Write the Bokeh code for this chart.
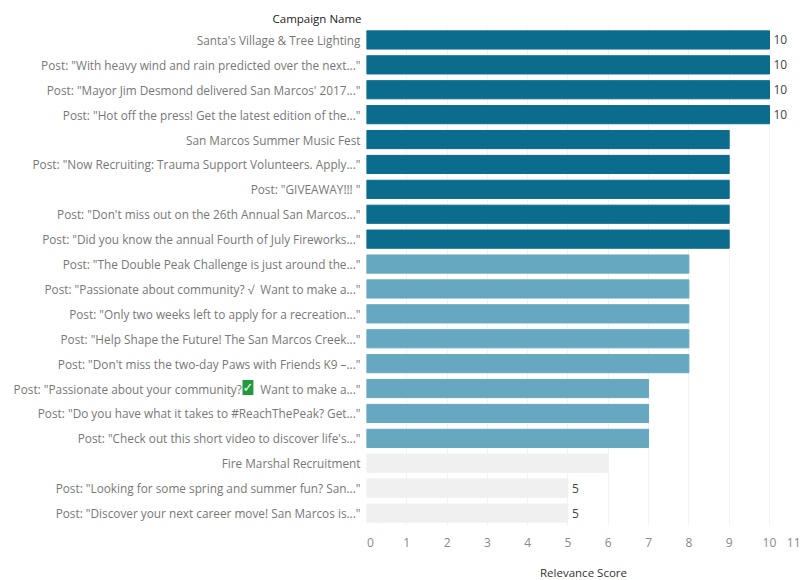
from bokeh.plotting import figure
from bokeh.embed import file_html
from bokeh.resources import INLINE
from bokeh.models import FactorRange, Range1d, FixedTicker, ColumnDataSource, Title
from bokeh.core.properties import value

FONT = "Open Sans"

campaigns = [
    "Santa's Village & Tree Lighting",
    'Post: "With heavy wind and rain predicted over the next..."',
    'Post: "Mayor Jim Desmond delivered San Marcos\' 2017..."',
    'Post: "Hot off the press! Get the latest edition of the..."',
    "San Marcos Summer Music Fest",
    'Post: "Now Recruiting: Trauma Support Volunteers. Apply..."',
    'Post: "GIVEAWAY!!! "',
    'Post: "Don\'t miss out on the 26th Annual San Marcos..."',
    'Post: "Did you know the annual Fourth of July Fireworks..."',
    'Post: "The Double Peak Challenge is just around the..."',
    'Post: "Passionate about community? \u221a\u00a0\u00a0Want to make a..."',
    'Post: "Only two weeks left to apply for a recreation..."',
    'Post: "Help Shape the Future! The San Marcos Creek..."',
    'Post: "Don\'t miss the two-day Paws with Friends K9 \u2013..."',
    'Post: "Passionate about your community?\u00a0\u00a0\u00a0\u00a0\u00a0\u00a0Want to make a..."',
    'Post: "Do you have what it takes to #ReachThePeak? Get..."',
    'Post: "Check out this short video to discover life\'s..."',
    "Fire Marshal Recruitment",
    'Post: "Looking for some spring and summer fun? San..."',
    'Post: "Discover your next career move! San Marcos is..."',
]
scores = [10, 10, 10, 10, 9, 9, 9, 9, 9, 8, 8, 8, 8, 8, 7, 7, 7, 6, 5, 5]
bar_colors = ["#0b6c8d"] * 9 + ["#65a8bf"] * 8 + ["#f0f0f0"] * 3
value_labels = ["10", "10", "10", "10", "", "", "", "", "", "", "", "", "", "", "", "", "", "", "5", "5"]
tick_values = [0.1, 1, 2, 3, 4, 5, 6, 7, 8, 9, 10, 10.75]
tick_labels = ["0", "1", "2", "3", "4", "5", "6", "7", "8", "9", "10", "11"]
grid_values = [1, 2, 3, 4, 5, 6, 7, 8, 9, 10]

src = ColumnDataSource(dict(name=campaigns, score=scores, color=bar_colors, label=value_labels))

p = figure(
    frame_width=434, frame_height=498, output_backend="svg", toolbar_location=None,
    x_range=Range1d(0, 10.77),
    y_range=FactorRange(factors=campaigns[::-1], factor_padding=0, range_padding=0),
    min_border_left=366, min_border_right=0, min_border_top=27, min_border_bottom=54,
)
p.outline_line_color = None
p.background_fill_color = "white"

p.hbar(y="name", left=0, right="score", height=0.73, color="color", source=src)
p.text(x="score", y="name", text="label", source=src, x_offset=4, text_baseline="middle",
       text_font=value(FONT), text_font_size="12px", text_color="#444444")

p.ygrid.visible = False
p.xgrid.ticker = FixedTicker(ticks=grid_values)
p.xgrid.grid_line_color = "#f3f3f3"

ya = p.yaxis[0]
ya.axis_line_color = None
ya.major_tick_line_color = None
ya.minor_tick_line_color = None
ya.major_label_standoff = 0
ya.major_label_text_font = FONT
ya.major_label_text_font_size = "11.8px"
ya.major_label_text_color = "#777777"

xa = p.xaxis[0]
xa.ticker = FixedTicker(ticks=tick_values)
xa.major_label_overrides = dict(zip(tick_values, tick_labels))
xa.axis_line_color = None
xa.major_tick_line_color = None
xa.minor_tick_line_color = None
xa.major_label_standoff = 6
xa.major_label_text_font = FONT
xa.major_label_text_font_size = "12px"
xa.major_label_text_color = "#888888"
xa.axis_label = "Relevance Score"
xa.axis_label_standoff = 15
xa.axis_label_text_font = FONT
xa.axis_label_text_font_style = "normal"
xa.axis_label_text_font_size = "11.5px"
xa.axis_label_text_color = "#333333"

p.add_layout(Title(text="Campaign Name", align="left", offset=-94, standoff=3,
                   text_font=FONT, text_font_size="11.5px", text_font_style="normal",
                   text_color="#222222"), "above")
p.add_layout(Title(text="\u2713", align="left", offset=-124, standoff=-775,
                   text_font="DejaVu Sans", text_font_size="13px", text_font_style="normal",
                   text_color="white", background_fill_color="#1f9a3c"), "above")

open("out.html", "w").write(file_html(p, INLINE))
